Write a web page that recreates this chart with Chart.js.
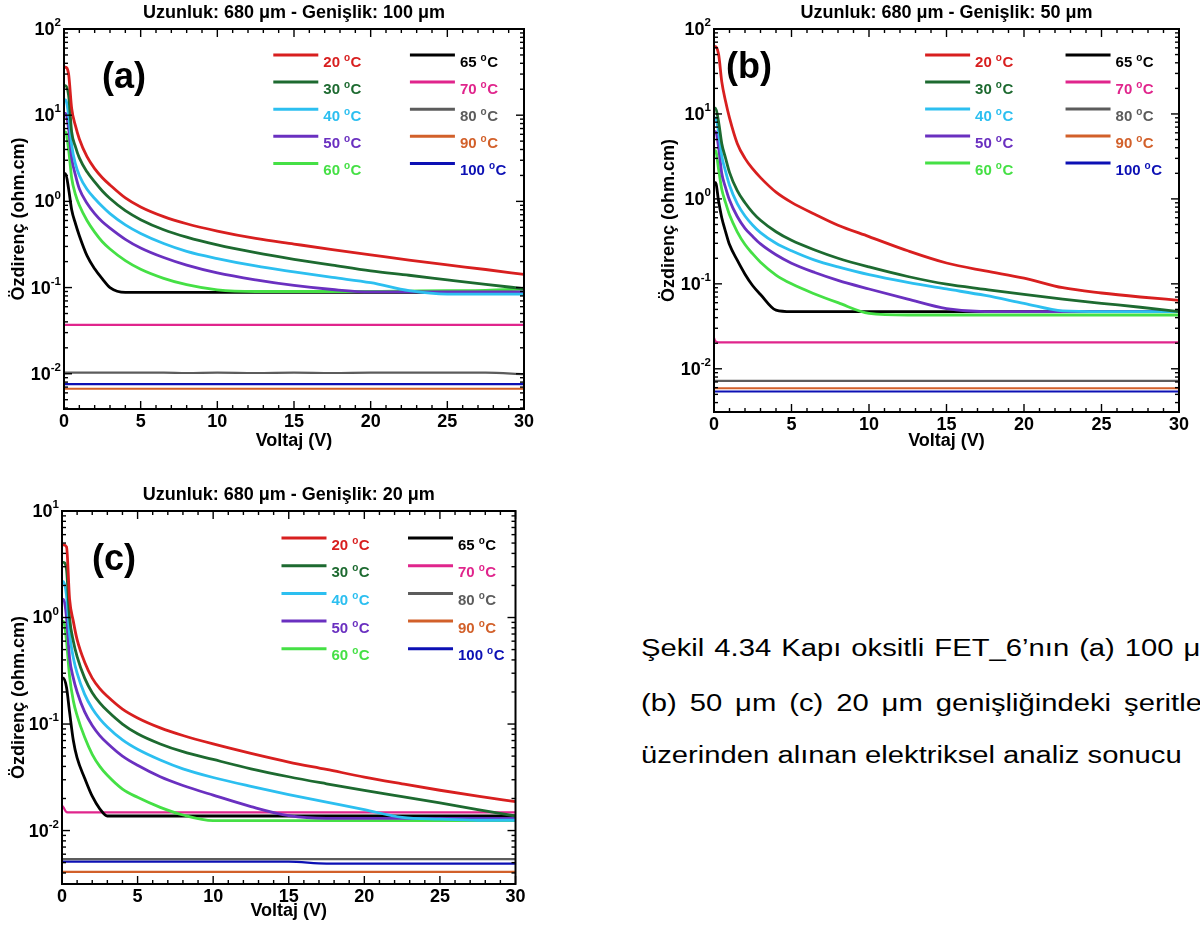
<!DOCTYPE html>
<html>
<head>
<meta charset="utf-8">
<script src="https://cdn.jsdelivr.net/npm/chart.js@4.4.0/dist/chart.umd.min.js"></script>
<style>
  body { margin: 0; width: 1200px; height: 926px; overflow: hidden; background: #fff; position: relative;
         font-family: 'Liberation Sans', Arial, sans-serif; }
  .panel { position: absolute; }
  .cap { position: absolute; left: 641px; font-size: 23px; line-height: 23px; white-space: nowrap;
         transform: scaleX(1.27); transform-origin: 0 0; color: #000; }
</style>
</head>
<body>
<div class="panel" style="left:0;top:0;width:580px;height:456px"><canvas id="chartA"></canvas></div>
<div class="panel" style="left:650px;top:0;width:550px;height:456px"><canvas id="chartB"></canvas></div>
<div class="panel" style="left:0;top:481px;width:580px;height:445px"><canvas id="chartC"></canvas></div>
<div class="cap" style="top:637px;word-spacing:1.5px">Şekil 4.34 Kapı oksitli FET_6’nın (a) 100 μm</div>
<div class="cap" style="top:692px;word-spacing:3.8px">(b) 50 μm (c) 20 μm genişliğindeki şeritler</div>
<div class="cap" style="top:744px">üzerinden alınan elektriksel analiz sonucu</div>
<script>
// Voltaj (V) sample points, shared by every curve
const voltage = [0, 0.1, 0.3, 0.5, 0.75, 1, 1.5, 2, 2.5, 3, 4, 5, 6.5, 8, 10, 12.5, 15, 17.5, 20, 22.5, 25, 27.5, 30];
const temps = [20, 30, 40, 50, 60, 65, 70, 80, 90, 100];
const colors = ['#d81f1f', '#1d6a30', '#2cbff0', '#6a30c0', '#45e045', '#000000', '#e0258c', '#5c5c5c', '#d2602a', '#0c10b4'];

// (a) 100 um
const a20 = [36, 36, 30, 12, 7.5, 5.3, 3.3, 2.4, 1.88, 1.55, 1.096, 0.861, 0.665, 0.55, 0.453, 0.372, 0.32, 0.276, 0.24, 0.208, 0.183, 0.162, 0.142];
const a30 = [22, 22, 17, 6.4, 4.3, 3.2, 2.2, 1.68, 1.32, 1.08, 0.78, 0.614, 0.469, 0.384, 0.312, 0.254, 0.213, 0.182, 0.156, 0.139, 0.123, 0.109, 0.097];
const a40 = [15, 15, 10, 4.5, 2.7, 2.0, 1.38, 1.08, 0.87, 0.72, 0.533, 0.424, 0.324, 0.263, 0.217, 0.178, 0.152, 0.131, 0.114, 0.092, 0.084, 0.084, 0.084];
const a50 = [10.5, 10.5, 7, 3.2, 2.0, 1.4, 0.95, 0.72, 0.58, 0.49, 0.363, 0.288, 0.223, 0.182, 0.148, 0.123, 0.106, 0.095, 0.089, 0.089, 0.089, 0.089, 0.089];
const a60 = [6.4, 6.4, 4, 1.87, 1.2, 0.9, 0.6, 0.44, 0.34, 0.28, 0.205, 0.163, 0.128, 0.108, 0.094, 0.09, 0.09, 0.09, 0.09, 0.091, 0.092, 0.093, 0.096];
const a65 = [2.1, 2.1, 1.4, 0.8, 0.55, 0.4, 0.235, 0.165, 0.126, 0.1, 0.088, 0.088, 0.088, 0.088, 0.088, 0.088, 0.088, 0.088, 0.088, 0.088, 0.088, 0.088, 0.088];
const a70 = [0.037, 0.037, 0.037, 0.037, 0.037, 0.037, 0.037, 0.037, 0.037, 0.037, 0.037, 0.037, 0.037, 0.037, 0.037, 0.037, 0.037, 0.037, 0.037, 0.037, 0.037, 0.037, 0.037];
const a80 = [0.0103, 0.0103, 0.0103, 0.0103, 0.0103, 0.0103, 0.0103, 0.0103, 0.0103, 0.0103, 0.0103, 0.0103, 0.0103, 0.0102, 0.0103, 0.0102, 0.0103, 0.0102, 0.0103, 0.0103, 0.0103, 0.0103, 0.0099];
const a90 = [0.0067, 0.0067, 0.0067, 0.0067, 0.0067, 0.0067, 0.0067, 0.0067, 0.0067, 0.0067, 0.0067, 0.0067, 0.0067, 0.0067, 0.0067, 0.0067, 0.0067, 0.0067, 0.0067, 0.0067, 0.0067, 0.0067, 0.0067];
const a100 = [0.0076, 0.0076, 0.0076, 0.0076, 0.0076, 0.0076, 0.0076, 0.0076, 0.0076, 0.0076, 0.0076, 0.0076, 0.0076, 0.0076, 0.0076, 0.0076, 0.0076, 0.0076, 0.0076, 0.0076, 0.0076, 0.0076, 0.0076];

// (b) 50 um
const b20 = [62, 62, 50, 24, 14, 9, 4.5, 3.0, 2.25, 1.78, 1.2, 0.91, 0.66, 0.49, 0.36, 0.245, 0.176, 0.142, 0.117, 0.09, 0.078, 0.07, 0.064];
const b30 = [11.7, 11.7, 8, 4.5, 3.0, 2.05, 1.25, 0.9, 0.69, 0.56, 0.41, 0.325, 0.25, 0.2, 0.158, 0.122, 0.099, 0.086, 0.075, 0.066, 0.059, 0.053, 0.047];
const b40 = [9, 9, 6, 3.2, 2.1, 1.45, 0.88, 0.63, 0.49, 0.4, 0.3, 0.245, 0.19, 0.158, 0.128, 0.104, 0.087, 0.073, 0.059, 0.048, 0.047, 0.047, 0.047];
const b50 = [6.2, 6.2, 4, 2.0, 1.35, 0.97, 0.62, 0.45, 0.36, 0.295, 0.22, 0.175, 0.136, 0.11, 0.087, 0.066, 0.051, 0.047, 0.047, 0.047, 0.047, 0.047, 0.047];
const b60 = [3.7, 3.7, 2.2, 1.3, 0.9, 0.65, 0.41, 0.29, 0.225, 0.18, 0.127, 0.1, 0.076, 0.06, 0.045, 0.043, 0.043, 0.043, 0.043, 0.043, 0.043, 0.043, 0.043];
const b65 = [1.55, 1.55, 0.93, 0.6, 0.41, 0.29, 0.19, 0.13, 0.095, 0.075, 0.049, 0.047, 0.047, 0.047, 0.047, 0.047, 0.047, 0.047, 0.047, 0.047, 0.047, 0.047, 0.047];
const b70 = [0.023, 0.021, 0.0205, 0.0205, 0.0205, 0.0205, 0.0205, 0.0205, 0.0205, 0.0205, 0.0205, 0.0205, 0.0205, 0.0205, 0.0205, 0.0205, 0.0205, 0.0205, 0.0205, 0.0205, 0.0205, 0.0205, 0.0205];
const b80 = [0.0072, 0.0072, 0.0072, 0.0072, 0.0072, 0.0072, 0.0072, 0.0072, 0.0072, 0.0072, 0.0072, 0.0072, 0.0072, 0.0072, 0.0072, 0.0072, 0.0072, 0.0072, 0.0072, 0.0072, 0.0072, 0.0072, 0.0072];
const b90 = [0.0059, 0.0059, 0.0059, 0.0059, 0.0059, 0.0059, 0.0059, 0.0059, 0.0059, 0.0059, 0.0059, 0.0059, 0.0059, 0.0059, 0.0059, 0.0059, 0.0059, 0.0059, 0.0059, 0.0059, 0.0059, 0.0059, 0.0059];
const b100 = [0.0054, 0.0054, 0.0054, 0.0054, 0.0054, 0.0054, 0.0054, 0.0054, 0.0054, 0.0054, 0.0054, 0.0054, 0.0054, 0.0054, 0.0054, 0.0054, 0.0054, 0.0054, 0.0054, 0.0054, 0.0054, 0.0054, 0.0054];

// (c) 20 um
const c20 = [4.8, 4.8, 4.6, 1.5, 0.92, 0.62, 0.38, 0.27, 0.215, 0.182, 0.138, 0.114, 0.092, 0.078, 0.065, 0.053, 0.044, 0.0375, 0.0318, 0.0275, 0.0239, 0.021, 0.0187];
const c30 = [3.3, 3.3, 2.8, 1.0, 0.6, 0.43, 0.27, 0.197, 0.158, 0.133, 0.1, 0.081, 0.065, 0.055, 0.0465, 0.038, 0.032, 0.0275, 0.0238, 0.0208, 0.0182, 0.0157, 0.0137];
const c40 = [2.17, 2.17, 1.6, 0.7, 0.42, 0.3, 0.19, 0.14, 0.112, 0.094, 0.071, 0.058, 0.046, 0.038, 0.0315, 0.026, 0.0218, 0.0185, 0.0157, 0.0133, 0.0128, 0.0125, 0.0125];
const c50 = [1.48, 1.48, 1.0, 0.42, 0.27, 0.2, 0.13, 0.097, 0.078, 0.066, 0.05, 0.041, 0.032, 0.0265, 0.0215, 0.0168, 0.0138, 0.013, 0.013, 0.013, 0.013, 0.013, 0.013];
const c60 = [0.92, 0.92, 0.6, 0.28, 0.165, 0.12, 0.075, 0.052, 0.04, 0.033, 0.0245, 0.0205, 0.0165, 0.014, 0.0124, 0.0124, 0.0124, 0.0124, 0.0124, 0.0124, 0.0124, 0.0124, 0.0124];
const c65 = [0.27, 0.27, 0.22, 0.13, 0.07, 0.048, 0.031, 0.021, 0.016, 0.0137, 0.0137, 0.0137, 0.0137, 0.0137, 0.0137, 0.0137, 0.0137, 0.0137, 0.0137, 0.0137, 0.0137, 0.0137, 0.0137];
const c70 = [0.0172, 0.0165, 0.0149, 0.0148, 0.0148, 0.0148, 0.0148, 0.0148, 0.0148, 0.0148, 0.0148, 0.0148, 0.0148, 0.0148, 0.0148, 0.0148, 0.0148, 0.0148, 0.0148, 0.0148, 0.0148, 0.0148, 0.0148];
const c80 = [0.0054, 0.0054, 0.0054, 0.0054, 0.0054, 0.0054, 0.0054, 0.0054, 0.0054, 0.0054, 0.0054, 0.0054, 0.0054, 0.0054, 0.0054, 0.0054, 0.0054, 0.0054, 0.0054, 0.0054, 0.0054, 0.0054, 0.0054];
const c90 = [0.0041, 0.0041, 0.0041, 0.0041, 0.0041, 0.0041, 0.0041, 0.0041, 0.0041, 0.0041, 0.0041, 0.0041, 0.0041, 0.0041, 0.0041, 0.0041, 0.0041, 0.0041, 0.0041, 0.0041, 0.0041, 0.0041, 0.0041];
const c100 = [0.0051, 0.0051, 0.0051, 0.0051, 0.0051, 0.0051, 0.0051, 0.0051, 0.0051, 0.0051, 0.0051, 0.0051, 0.0051, 0.0051, 0.0051, 0.0051, 0.0051, 0.0049, 0.0049, 0.0049, 0.0049, 0.0049, 0.0049];

const FONT = "'Liberation Sans', Arial, sans-serif";
Chart.defaults.font.family = FONT;
Chart.defaults.color = '#000';

function seg(ctx, x1, y1, x2, y2) {
    ctx.beginPath();
    ctx.moveTo(x1, y1);
    ctx.lineTo(x2, y2);
    ctx.stroke();
}

// frame, inward ticks, 10^n labels, title, panel tag and the two-column legend
const panelDecor = {
    id: 'panelDecor',
    afterDatasetsDraw(chart, args, opts) {
        const {ctx, chartArea: ca, scales: {x, y}} = chart;
        ctx.save();
        ctx.strokeStyle = '#000';
        ctx.fillStyle = '#000';

        ctx.lineWidth = 1.4;
        for (let v = x.min; v <= x.max; v += 1) {
            const px = x.getPixelForValue(v);
            const len = v % 5 === 0 ? 8 : 4;
            seg(ctx, px, ca.bottom, px, ca.bottom - len);
            seg(ctx, px, ca.top, px, ca.top + len);
        }
        const lo = Math.floor(Math.log10(y.min));
        const hi = Math.ceil(Math.log10(y.max));
        for (let e = lo; e <= hi; e++) {
            for (let m = 1; m < 10; m++) {
                const v = m * Math.pow(10, e);
                if (v < y.min * 0.999 || v > y.max * 1.001) continue;
                const py = y.getPixelForValue(v);
                const len = m === 1 ? 8 : 4;
                seg(ctx, ca.left, py, ca.left + len, py);
                seg(ctx, ca.right, py, ca.right - len, py);
                if (m === 1) {
                    const exp = String(e);
                    ctx.font = 'bold 11.5px ' + FONT;
                    const ew = ctx.measureText(exp).width;
                    const xr = ca.left - 3;
                    ctx.textAlign = 'left';
                    ctx.textBaseline = 'middle';
                    ctx.fillText(exp, xr - ew, py - 6);
                    ctx.font = 'bold 18px ' + FONT;
                    ctx.textAlign = 'right';
                    ctx.fillText('10', xr - ew, py + 1);
                }
            }
        }

        ctx.lineWidth = 2;
        ctx.strokeRect(ca.left, ca.top, ca.right - ca.left, ca.bottom - ca.top);

        ctx.font = 'bold 18px ' + FONT;
        ctx.textAlign = 'center';
        ctx.textBaseline = 'middle';
        ctx.fillText(opts.title, (ca.left + ca.right) / 2, ca.top - 16);

        ctx.font = 'bold 36px ' + FONT;
        ctx.textAlign = 'left';
        ctx.fillText(opts.tag, ca.left + opts.tagDx, ca.top + opts.tagDy);

        const lg = opts.legend;
        chart.data.datasets.forEach((ds, i) => {
            const col = Math.floor(i / 5), row = i % 5;
            const x0 = ca.left + lg.cols[col] * (ca.right - ca.left);
            const yy = ca.top + lg.top + row * lg.gap;
            ctx.strokeStyle = ds.borderColor;
            ctx.lineWidth = 3;
            seg(ctx, x0, yy, x0 + 45, yy);
            const num = ds.label.split(' ')[0];
            ctx.fillStyle = ds.borderColor;
            ctx.textAlign = 'left';
            ctx.textBaseline = 'alphabetic';
            ctx.font = 'bold 15px ' + FONT;
            const base = yy + 11.5;
            let tx = x0 + 50;
            ctx.fillText(num, tx, base);
            tx += ctx.measureText(num).width + 4;
            ctx.font = 'bold 10px ' + FONT;
            ctx.fillText('o', tx, base - 6);
            tx += ctx.measureText('o').width + 0.5;
            ctx.font = 'bold 15px ' + FONT;
            ctx.fillText('C', tx, base);
        });
        ctx.restore();
    }
};

function makeChart(id, series, opt) {
    return new Chart(document.getElementById(id), {
        type: 'line',
        data: {
            datasets: series.map((vals, i) => ({
                label: temps[i] + ' °C',
                data: voltage.map((v, k) => ({x: v, y: vals[k]})),
                borderColor: colors[i],
                backgroundColor: colors[i],
                borderWidth: i < 6 ? 2.8 : 2.2,
                pointRadius: 0,
                cubicInterpolationMode: 'monotone',
            })),
        },
        options: {
            responsive: true,
            maintainAspectRatio: false,
            animation: false,
            layout: {padding: opt.padding},
            plugins: {
                legend: {display: false},
                tooltip: {enabled: false},
                panelDecor: opt.decor,
            },
            scales: {
                x: {
                    type: 'linear', min: 0, max: 30,
                    grid: {display: false, drawTicks: false},
                    border: {display: false},
                    ticks: {stepSize: 5, padding: 2, font: {size: 18, weight: 'bold'}, color: '#000'},
                    title: {display: true, text: 'Voltaj (V)', font: {size: 18, weight: 'bold'}, padding: {top: 0, bottom: 4}},
                    afterFit: s => { s.height = opt.xHeight; },
                },
                y: {
                    type: 'logarithmic', min: opt.yMin, max: opt.yMax,
                    grid: {display: false, drawTicks: false},
                    border: {display: false},
                    ticks: {display: false},
                    title: {display: true, text: 'Özdirenç (ohm.cm)', font: {size: 18, weight: 'bold'}, padding: {top: 8, bottom: 0}},
                    afterFit: s => { s.width = opt.yWidth; },
                },
            },
        },
        plugins: [panelDecor],
    });
}

const chartA = makeChart('chartA', [a20, a30, a40, a50, a60, a65, a70, a80, a90, a100], {
    padding: {top: 29, right: 56, left: 0, bottom: 0},
    yWidth: 64, xHeight: 47, yMin: 0.0039, yMax: 100,
    decor: {title: 'Uzunluk: 680 μm - Genişlik: 100 μm', tag: '(a)', tagDx: 38, tagDy: 49,
            legend: {cols: [0.455, 0.752], top: 26, gap: 27.1}},
});

const chartB = makeChart('chartB', [b20, b30, b40, b50, b60, b65, b70, b80, b90, b100], {
    padding: {top: 29, right: 21, left: 0, bottom: 0},
    yWidth: 64, xHeight: 44, yMin: 0.0031, yMax: 100,
    decor: {title: 'Uzunluk: 680 μm - Genişlik: 50 μm', tag: '(b)', tagDx: 12, tagDy: 39,
            legend: {cols: [0.454, 0.756], top: 26, gap: 27}},
});

const chartC = makeChart('chartC', [c20, c30, c40, c50, c60, c65, c70, c80, c90, c100], {
    padding: {top: 30, right: 64.5, left: 0, bottom: 0},
    yWidth: 62, xHeight: 42, yMin: 0.00315, yMax: 10,
    decor: {title: 'Uzunluk: 680 μm - Genişlik: 20 μm', tag: '(c)', tagDx: 30, tagDy: 49,
            legend: {cols: [0.484, 0.763], top: 27, gap: 27.7}},
});
</script>
</body>
</html>
